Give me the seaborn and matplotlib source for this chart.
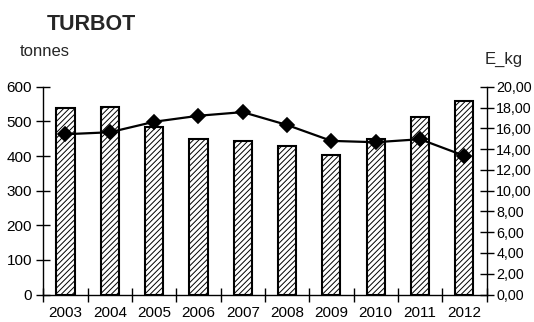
import numpy as np
import pandas as pd
import matplotlib
matplotlib.use("Agg")
import matplotlib.pyplot as plt
from matplotlib.ticker import FixedLocator, FuncFormatter, MultipleLocator
import seaborn as sns

# ---- data ----
years = ["2003", "2004", "2005", "2006", "2007", "2008", "2009", "2010", "2011", "2012"]
tonnes = [540, 543, 485, 449, 445, 428, 404, 449, 514, 558]
e_kg = [15.44, 15.63, 16.64, 17.22, 17.57, 16.33, 14.80, 14.67, 14.96, 13.36]
title = "TURBOT"
left_label = "tonnes"
right_label = "E_kg"

df = pd.DataFrame({"year": years, "tonnes": tonnes, "e_kg": e_kg})

sns.set_theme(style="white")
plt.rcParams["font.family"] = ["Liberation Sans", "DejaVu Sans"]
plt.rcParams["hatch.color"] = "#222222"
plt.rcParams["hatch.linewidth"] = 0.7

fig = plt.figure(figsize=(5.34, 3.22), dpi=100)
ax = fig.add_axes([43.3 / 534, 1 - 294.5 / 322, (486.5 - 43.3) / 534, (294.5 - 86.9) / 322])
ax2 = ax.twinx()

sns.barplot(data=df, x="year", y="tonnes", ax=ax, color="white", edgecolor="black",
            linewidth=1.5, width=0.41, hatch="//////", saturation=1, zorder=2)
sns.pointplot(data=df, x="year", y="e_kg", ax=ax2, color="black", markers="D",
              markersize=7, linewidth=1.6, errorbar=None)

fs = 11
ax.set_ylim(0, 600)
ax2.set_ylim(0, 20)
ax.set_xlim(-0.5, len(years) - 0.5)
ax.yaxis.set_major_locator(MultipleLocator(100))
ax2.yaxis.set_major_locator(MultipleLocator(2))
ax2.yaxis.set_major_formatter(FuncFormatter(lambda v, p: f"{v:.2f}".replace(".", ",")))

ax.set_xticks(np.arange(len(years)))
ax.set_xticklabels(years)
ax.xaxis.set_minor_locator(FixedLocator(np.arange(len(years) + 1) - 0.5))
ax.tick_params(axis="x", which="major", length=0, pad=8, labelsize=fs, colors="black")
ax.tick_params(axis="x", which="minor", length=10, width=1, direction="inout", bottom=True, color="black")
ax.tick_params(axis="y", which="major", length=10, width=1, direction="inout", left=True,
               pad=3, labelsize=fs, colors="black")
ax2.tick_params(axis="y", which="major", length=10, width=1, direction="inout", right=True,
                pad=2, labelsize=10.3, colors="black")

for a in (ax, ax2):
    a.set_xlabel("")
    a.set_ylabel("")
    a.grid(False)
for s in ["top", "right"]:
    ax.spines[s].set_visible(False)
for s in ["top", "left", "bottom"]:
    ax2.spines[s].set_visible(False)
for a, s in [(ax, "left"), (ax, "bottom"), (ax2, "right")]:
    a.spines[s].set_color("black")
    a.spines[s].set_linewidth(1.0)

fig.text(91 / 534, 1 - 25 / 322, title, fontsize=15.5, fontweight="bold", ha="center", va="center")
fig.text(45 / 534, 1 - 52 / 322, left_label, fontsize=12, ha="center", va="center")
fig.text(504 / 534, 1 - 59 / 322, right_label, fontsize=12, ha="center", va="center")

fig.savefig("out.png", dpi=100)
